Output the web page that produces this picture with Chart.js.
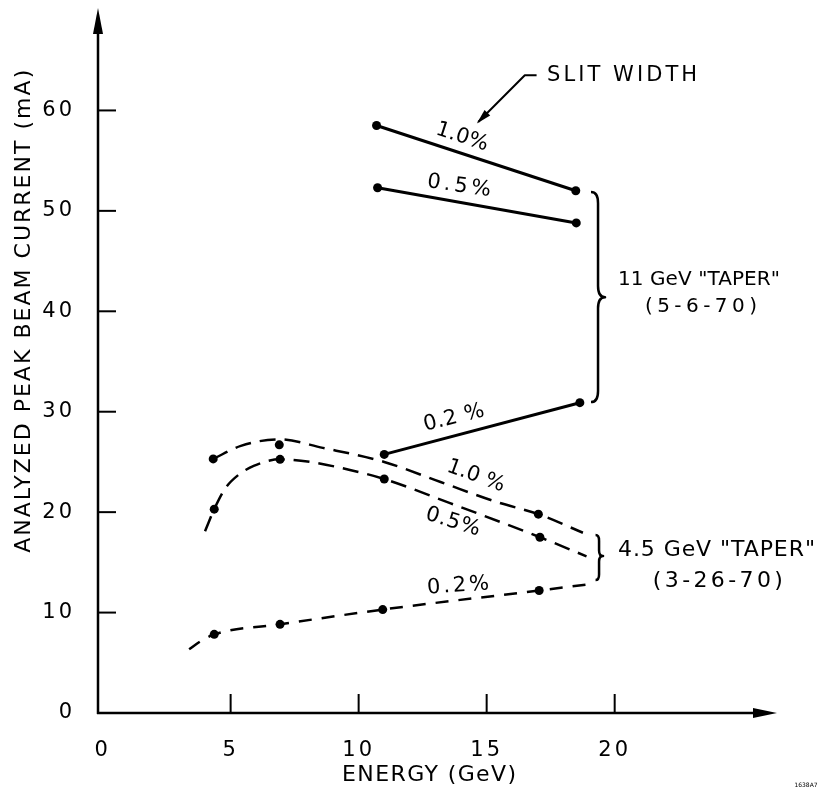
<!DOCTYPE html>
<html>
<head>
<meta charset="utf-8">
<title>Analyzed peak beam current vs energy</title>
<script src="https://cdn.jsdelivr.net/npm/chart.js@4/dist/chart.umd.min.js"></script>
<style>
  html, body { margin: 0; padding: 0; background: #ffffff; }
  #wrap { width: 821px; height: 791px; }
  canvas { display: block; }
</style>
</head>
<body>
<div id="wrap"><canvas id="chart" width="821" height="791"></canvas></div>
<script>
// ---------------- DATA ----------------
const xTickValues = [0, 5, 10, 15, 20];
const yTickValues = [0, 10, 20, 30, 40, 50, 60];

// 11 GeV "TAPER" (5-6-70) — solid lines, measured points (energy GeV, current mA)
const taper11Energy10 = [10.70, 18.48];
const taper11Current10 = [58.5, 52.0];
const taper11Energy05 = [10.74, 18.50];
const taper11Current05 = [52.3, 48.8];
const taper11Energy02 = [11.00, 18.64];
const taper11Current02 = [25.75, 30.9];

// 4.5 GeV "TAPER" (3-26-70) — measured points (dots)
const taper45Energy10 = [4.32, 6.90, 17.02];
const taper45Current10 = [25.3, 26.7, 19.8];
const taper45Energy05 = [4.36, 6.93, 11.00, 17.08];
const taper45Current05 = [20.3, 25.26, 23.3, 17.5];
const taper45Energy02 = [4.36, 6.93, 10.94, 17.05];
const taper45Current02 = [7.83, 8.83, 10.3, 12.2];

// 4.5 GeV "TAPER" — hand-drawn dashed curves
const curve45Energy10 = [4.32, 5.40, 6.90, 8.60, 11.00, 13.20, 15.40, 17.02, 18.76];
const curve45Current10 = [25.3, 26.6, 27.25, 26.4, 25.0, 23.0, 21.0, 19.8, 17.95];
const curve45Energy05 = [4.00, 4.36, 4.80, 5.30, 5.90, 6.93, 8.10, 9.66, 11.00, 13.57, 17.08, 18.90];
const curve45Current05 = [18.1, 20.3, 22.4, 23.7, 24.6, 25.26, 25.0, 24.2, 23.3, 20.9, 17.5, 15.6];
const curve45Energy02 = [3.38, 3.80, 4.36, 6.93, 10.94, 17.05, 18.95];
const curve45Current02 = [6.34, 7.1, 7.83, 8.83, 10.3, 12.2, 12.8];

// ---------------- helpers ----------------
const pts = (xs, ys) => xs.map((x, i) => ({ x: x, y: ys[i] }));
const FONT = '"DejaVu Sans", "Liberation Sans", sans-serif';

function markerSet(xs, ys) {
  return {
    data: pts(xs, ys), showLine: false, pointRadius: 4.5, pointHoverRadius: 4.5,
    pointBackgroundColor: '#000', pointBorderWidth: 0, pointStyle: 'circle'
  };
}
function solidSet(xs, ys) {
  return {
    data: pts(xs, ys), showLine: true, borderColor: '#000', borderWidth: 3,
    tension: 0, pointRadius: 4.5, pointBackgroundColor: '#000', pointBorderWidth: 0
  };
}
function dashedSet(xs, ys, dash) {
  return {
    data: pts(xs, ys), showLine: true, borderColor: '#000', borderWidth: 2.5,
    borderDash: dash, tension: 0.4, cubicInterpolationMode: 'monotone',
    pointRadius: 0, borderCapStyle: 'butt'
  };
}

function drawText(ctx, str, x, y, o) {
  ctx.save();
  ctx.translate(x, y);
  if (o.rot) ctx.rotate(o.rot * Math.PI / 180);
  ctx.font = (o.size || 20) + 'px ' + FONT;
  ctx.fillStyle = '#000';
  ctx.textBaseline = 'middle';
  ctx.textAlign = 'left';
  ctx.letterSpacing = '0px';
  const w0 = ctx.measureText(str).width;
  let sp = o.spacing || 0;
  if (o.width) sp = (o.width - w0) / Math.max(1, str.length - 1);
  if (sp < 0) sp = 0;
  const total = w0 + sp * (str.length - 1);
  ctx.letterSpacing = sp + 'px';
  let dx = 0;
  if (o.align === 'center') dx = -total / 2;
  else if (o.align === 'right') dx = -total;
  ctx.fillText(str, dx, 0);
  ctx.restore();
}

function drawBrace(ctx, x, yTop, yMid, yBot, depth, curl) {
  ctx.beginPath();
  ctx.moveTo(x - curl, yTop);
  ctx.quadraticCurveTo(x, yTop, x, yTop + curl * 1.6);
  ctx.lineTo(x, yMid - curl * 1.6);
  ctx.quadraticCurveTo(x, yMid, x + depth, yMid);
  ctx.quadraticCurveTo(x, yMid, x, yMid + curl * 1.6);
  ctx.lineTo(x, yBot - curl * 1.6);
  ctx.quadraticCurveTo(x, yBot, x - curl, yBot);
  ctx.stroke();
}

const decorPlugin = {
  id: 'decor',
  beforeDraw(chart) {
    const c = chart.ctx;
    c.save(); c.fillStyle = '#fff'; c.fillRect(0, 0, chart.width, chart.height); c.restore();
    c.letterSpacing = '3px';
  },
  beforeDatasetsDraw(chart) { chart.ctx.letterSpacing = '0px'; },
  afterDraw(chart) {
    const ctx = chart.ctx, xs = chart.scales.x, ys = chart.scales.y, a = chart.chartArea;
    const X = v => xs.getPixelForValue(v), Y = v => ys.getPixelForValue(v);
    ctx.save();
    ctx.letterSpacing = '0px';
    ctx.strokeStyle = '#000'; ctx.fillStyle = '#000';
    ctx.lineCap = 'butt'; ctx.lineJoin = 'round';

    // axes with arrowheads
    ctx.lineWidth = 2.5;
    ctx.beginPath(); ctx.moveTo(a.left, a.bottom + 1); ctx.lineTo(a.left, a.top + 20); ctx.stroke();
    ctx.beginPath(); ctx.moveTo(a.left, a.top); ctx.lineTo(a.left - 5, a.top + 26); ctx.lineTo(a.left + 5, a.top + 26); ctx.closePath(); ctx.fill();
    ctx.beginPath(); ctx.moveTo(a.left - 1, a.bottom); ctx.lineTo(a.right - 20, a.bottom); ctx.stroke();
    ctx.beginPath(); ctx.moveTo(a.right, a.bottom); ctx.lineTo(a.right - 24, a.bottom - 5); ctx.lineTo(a.right - 24, a.bottom + 5); ctx.closePath(); ctx.fill();

    // inward tick marks
    ctx.lineWidth = 2;
    ys.ticks.forEach(t => {
      if (t.value === 0) return;
      const p = Y(t.value);
      ctx.beginPath(); ctx.moveTo(a.left, p); ctx.lineTo(a.left + 18, p); ctx.stroke();
    });
    xs.ticks.forEach(t => {
      if (t.value === 0) return;
      const p = X(t.value);
      ctx.beginPath(); ctx.moveTo(p, a.bottom); ctx.lineTo(p, a.bottom - 19); ctx.stroke();
    });

    // axis titles
    drawText(ctx, 'ANALYZED PEAK BEAM CURRENT (mA)', 24, Y(40.0), { size: 22, rot: -90, align: 'center', width: 483 });
    drawText(ctx, 'ENERGY (GeV)', X(12.75), a.bottom + 62, { size: 22, align: 'center', width: 174 });

    // braces
    ctx.lineWidth = 2.5;
    drawBrace(ctx, X(19.35), Y(51.87), Y(41.41), Y(30.96), 7, 7);
    drawBrace(ctx, X(19.39), Y(17.72), Y(15.63), Y(13.24), 4, 3.5);

    // "SLIT WIDTH" pointer arrow
    ctx.lineWidth = 2;
    const p0 = [X(16.95), Y(63.5)], p1 = [X(16.49), Y(63.5)], p2 = [X(14.67), Y(58.85)];
    ctx.beginPath(); ctx.moveTo(p0[0], p0[1]); ctx.lineTo(p1[0], p1[1]); ctx.lineTo(p2[0], p2[1]); ctx.stroke();
    const dx = p2[0] - p1[0], dy = p2[1] - p1[1], L = Math.hypot(dx, dy);
    const ux = dx / L, uy = dy / L, hl = 13, hw = 4;
    ctx.beginPath();
    ctx.moveTo(p2[0] + ux * 2, p2[1] + uy * 2);
    ctx.lineTo(p2[0] - ux * hl - uy * hw, p2[1] - uy * hl + ux * hw);
    ctx.lineTo(p2[0] - ux * hl + uy * hw, p2[1] - uy * hl - ux * hw);
    ctx.closePath(); ctx.fill();

    // annotations
    drawText(ctx, 'SLIT WIDTH', X(17.36), Y(63.47), { size: 21, width: 150 });
    drawText(ctx, '11 GeV "TAPER"', X(20.13), Y(43.16), { size: 20, width: 162 });
    drawText(ctx, '(5-6-70)', X(23.37), Y(40.42), { size: 20, align: 'center', width: 112 });
    drawText(ctx, '4.5 GeV "TAPER"', X(20.13), Y(16.23), { size: 22, width: 197 });
    drawText(ctx, '(3-26-70)', X(24.03), Y(13.14), { size: 22, align: 'center', width: 130 });

    // slit-width labels on the curves
    drawText(ctx, '1.0%', X(14.04), Y(57.34), { size: 21, rot: 18, align: 'center', width: 54 });
    drawText(ctx, '0.5%', X(13.92), Y(52.46), { size: 21, rot: 8, align: 'center', width: 64 });
    drawText(ctx, '0.2 %', X(13.72), Y(29.37), { size: 21, rot: -14, align: 'center', width: 62 });
    drawText(ctx, '1.0 %', X(14.58), Y(23.59), { size: 21, rot: 20, align: 'center', width: 56 });
    drawText(ctx, '0.5%', X(13.68), Y(19.01), { size: 21, rot: 17, align: 'center', width: 56 });
    drawText(ctx, '0.2%', X(13.88), Y(12.64), { size: 21, rot: -4, align: 'center', width: 62 });

    // drawing number
    drawText(ctx, '1638A7', 806, 785, { size: 6, align: 'center' });
    ctx.restore();
  }
};

const tickFont = { family: FONT, size: 21 };

new Chart(document.getElementById('chart').getContext('2d'), {
  type: 'scatter',
  data: {
    datasets: [
      solidSet(taper11Energy10, taper11Current10),
      solidSet(taper11Energy05, taper11Current05),
      solidSet(taper11Energy02, taper11Current02),
      markerSet(taper45Energy10, taper45Current10),
      markerSet(taper45Energy05, taper45Current05),
      markerSet(taper45Energy02, taper45Current02),
      dashedSet(curve45Energy10, curve45Current10, [16, 9]),
      dashedSet(curve45Energy05, curve45Current05, [16, 9]),
      dashedSet(curve45Energy02, curve45Current02, [13, 10])
    ]
  },
  options: {
    responsive: false,
    animation: false,
    events: [],
    layout: { padding: { top: 8, right: 44, left: 0, bottom: 0 } },
    plugins: { legend: { display: false }, tooltip: { enabled: false } },
    scales: {
      x: {
        type: 'linear', min: -0.18, max: 26.34,
        grid: { display: false }, border: { display: false },
        ticks: { font: tickFont, color: '#000', padding: 17, maxRotation: 0, callback: v => String(v) },
        afterBuildTicks: s => { s.ticks = xTickValues.map(v => ({ value: v })); },
        afterFit: s => { s.height = 78; s.paddingLeft = 0; s.paddingRight = 0; }
      },
      y: {
        type: 'linear', min: 0, max: 70.2,
        grid: { display: false }, border: { display: false },
        ticks: { font: tickFont, color: '#000', padding: 15, callback: v => String(v) },
        afterBuildTicks: s => { s.ticks = yTickValues.map(v => ({ value: v })); },
        afterFit: s => { s.width = 98; s.paddingTop = 0; s.paddingBottom = 0; }
      }
    }
  },
  plugins: [decorPlugin]
});
</script>
</body>
</html>
